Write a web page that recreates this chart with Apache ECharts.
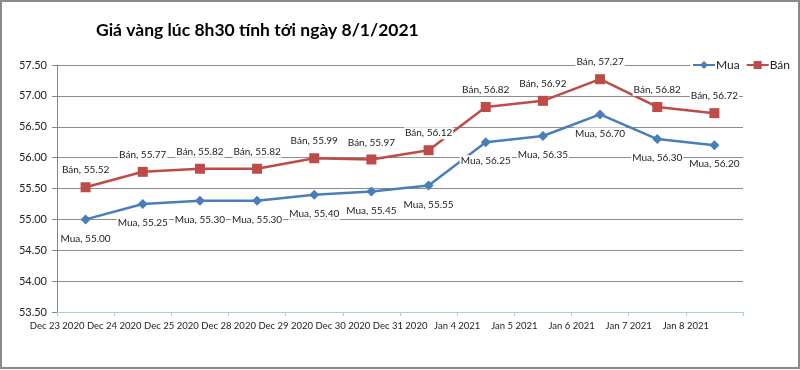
<!DOCTYPE html>
<html>
<head>
<meta charset="utf-8">
<script src="https://cdn.jsdelivr.net/npm/echarts@6/dist/echarts.min.js"></script>
<style>
  html, body { margin: 0; padding: 0; background: #fff; }
  #main { width: 800px; height: 370px; }
</style>
</head>
<body>
<div id="main"></div>
<script>
// du lieu gia vang
var days = ['Dec 23 2020', 'Dec 24 2020', 'Dec 25 2020', 'Dec 28 2020', 'Dec 29 2020', 'Dec 30 2020',
  'Dec 31 2020', 'Jan 4 2021', 'Jan 5 2021', 'Jan 6 2021', 'Jan 7 2021', 'Jan 8 2021'];
var mua = [55.00, 55.25, 55.30, 55.30, 55.40, 55.45, 55.55, 56.25, 56.35, 56.70, 56.30, 56.20];
var ban = [55.52, 55.77, 55.82, 55.82, 55.99, 55.97, 56.12, 56.82, 56.92, 57.27, 56.82, 56.72];

var font = 'Lato, "Open Sans", sans-serif';
var chart = echarts.init(document.getElementById('main'));

function lbl(name, pos, dist) {
  return {
    show: true,
    position: pos,
    distance: dist,
    fontFamily: font,
    fontSize: 10,
    color: '#222',
    backgroundColor: '#fff',
    padding: [1, 1],
    formatter: function (p) { return name + ', ' + p.value.toFixed(2); }
  };
}

var option = {
  backgroundColor: '#fff',
  animation: false,
  title: {
    text: 'Giá vàng lúc 8h30 tính tới ngày 8/1/2021',
    left: 91,
    top: 16,
    textStyle: { fontFamily: font, fontSize: 17.5, fontWeight: 'bold', color: '#000' }
  },
  legend: {
    right: 8,
    top: 58,
    itemWidth: 22,
    itemHeight: 10,
    itemGap: 6,
    backgroundColor: '#fff',
    padding: [1, 2],
    textStyle: { fontFamily: font, fontSize: 12, color: '#222', padding: [0, 0, 0, -4] },
    data: ['Mua', 'Bán']
  },
  grid: { left: 57, right: 57, top: 65, bottom: 58 },
  xAxis: {
    type: 'category',
    data: days,
    boundaryGap: true,
    axisLine: { lineStyle: { color: '#9fd4dc', width: 1 } },
    axisTick: { show: true, length: 4, lineStyle: { color: '#9fd4dc' } },
    axisLabel: {
      interval: 0,
      margin: 9,
      fontFamily: font,
      fontSize: 9.5,
      color: '#222',
      padding: [0, 57, 0, 0]
    }
  },
  yAxis: {
    type: 'value',
    min: 53.5,
    max: 57.5,
    interval: 0.5,
    axisLine: { show: true, lineStyle: { color: '#868686' } },
    axisTick: { show: true, length: 5, lineStyle: { color: '#868686' } },
    axisLabel: {
      margin: 10,
      fontFamily: font,
      fontSize: 11,
      color: '#222',
      formatter: function (v) { return v.toFixed(2); }
    },
    splitLine: { lineStyle: { color: '#8c8c8c', width: 1 } }
  },
  series: [
    {
      name: 'Mua',
      type: 'line',
      data: mua,
      symbol: 'diamond',
      symbolSize: 10,
      lineStyle: { color: '#4a7ebb', width: 2.5 },
      itemStyle: { color: '#4a7ebb' },
      label: lbl('Mua', 'bottom', 8),
      z: 3
    },
    {
      name: 'Bán',
      type: 'line',
      data: ban,
      symbol: 'rect',
      symbolSize: 10,
      lineStyle: { color: '#be4b48', width: 2.5 },
      itemStyle: { color: '#be4b48' },
      label: lbl('Bán', 'top', 6),
      z: 3
    }
  ],
  graphic: [
    {
      type: 'rect',
      shape: { x: 1, y: 1, width: 798, height: 367 },
      style: { fill: 'none', stroke: '#8a8a8a', lineWidth: 2 },
      silent: true,
      z: 100
    }
  ]
};

chart.setOption(option);
</script>
</body>
</html>
